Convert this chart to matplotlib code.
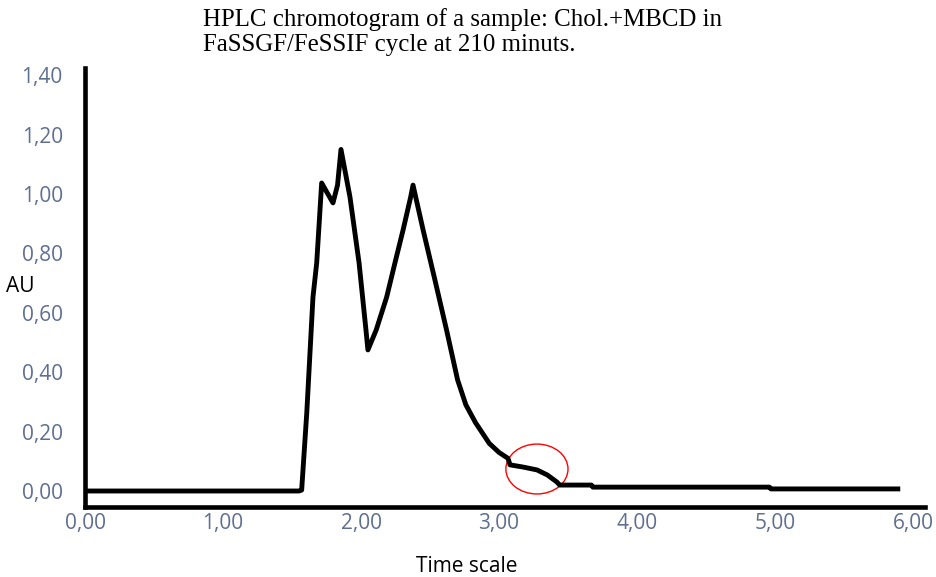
import numpy as np
import matplotlib.pyplot as plt
from matplotlib.patches import Ellipse

# retention time (min) and absorbance (AU)
time_min = [0.00, 1.55, 1.57, 1.607, 1.652, 1.679, 1.715, 1.76, 1.797, 1.83, 1.855,
            1.92, 1.986, 2.036, 2.05, 2.11, 2.186, 2.246, 2.305, 2.36, 2.377,
            2.45, 2.536, 2.62, 2.70, 2.76, 2.83, 2.93, 3.00, 3.065, 3.08, 3.17,
            3.275, 3.35, 3.42, 3.44, 3.67, 3.68, 4.96, 4.97, 5.89]
absorb_au = [0.000, 0.000, 0.003, 0.263, 0.653, 0.768, 1.037, 1.00, 0.970, 1.03, 1.150,
             0.990, 0.768, 0.542, 0.475, 0.542, 0.653, 0.768, 0.879, 0.990, 1.030,
             0.879, 0.710, 0.542, 0.374, 0.290, 0.230, 0.160, 0.130, 0.110, 0.088, 0.081,
             0.071, 0.054, 0.030, 0.020, 0.020, 0.013, 0.013, 0.007, 0.007]

xticks = [0, 1, 2, 3, 4, 5, 6]
yticks = [0.0, 0.2, 0.4, 0.6, 0.8, 1.0, 1.2, 1.4]

# highlighted shoulder (centre, width, height in data units)
mark_xy = (3.275, 0.074)
mark_w, mark_h = 0.45, 0.168

tick_col = '#5f6f90'

fig = plt.figure(figsize=(9.36, 5.77), dpi=100)
ax = fig.add_axes([85 / 936, 1 - 507 / 577, 840 / 936, (507 - 68) / 577])

ax.plot(time_min, absorb_au, color='black', lw=3.5, solid_joinstyle='round')
ax.add_patch(Ellipse(mark_xy, mark_w, mark_h, fill=False, edgecolor='red', lw=1))

ax.set_xlim(0, 840 / 138)
ax.set_ylim(-16 / 297, (491 - 68) / 297)

ax.set_xticks(xticks)
ax.set_xticklabels([f'{v:.2f}'.replace('.', ',') for v in xticks])
ax.set_yticks(yticks)
ax.set_yticklabels([f'{v:.2f}'.replace('.', ',') for v in yticks])
ax.tick_params(length=0, labelsize=15, labelcolor=tick_col)
ax.tick_params(axis='y', pad=16)
ax.tick_params(axis='x', pad=4)
for lab in ax.get_xticklabels() + ax.get_yticklabels():
    lab.set_family('Open Sans')

for s in ['top', 'right']:
    ax.spines[s].set_visible(False)
for s in ['left', 'bottom']:
    ax.spines[s].set_linewidth(3.3)
    ax.spines[s].set_color('black')
    ax.spines[s].set_capstyle('projecting')

fig.text(20 / 936, 1 - 286 / 577, 'AU', family='Open Sans', fontsize=15,
         ha='center', va='center', color='black')
fig.text(467 / 936, 1 - 566 / 577, 'Time scale', family='Open Sans', fontsize=15,
         ha='center', va='center', color='black')
fig.text(203 / 936, 1 - 32 / 577,
         'HPLC chromotogram of a sample: Chol.+MBCD in\nFaSSGF/FeSSIF cycle at 210 minuts.',
         family='Liberation Serif', fontsize=17.9, ha='left', va='center',
         multialignment='left', linespacing=1.15)

fig.savefig('out.png', dpi=100)
